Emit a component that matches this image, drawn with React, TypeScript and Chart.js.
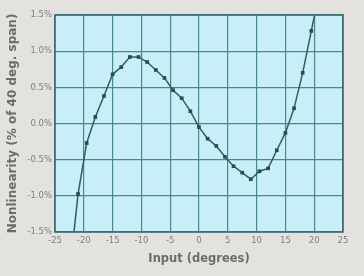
import React, { useEffect, useRef } from "react";
import { Chart, registerables } from "chart.js";

Chart.register(...registerables);

const inputDegrees = [-22.5, -21, -19.5, -18, -16.5, -15, -13.5, -12, -10.5, -9, -7.5, -6, -4.5, -3, -1.5, 0, 1.5, 3, 4.5, 6, 7.5, 9, 10.5, 12, 13.5, 15, 16.5, 18, 19.5, 21];
const nonlinearity = [-2.1, -0.975, -0.27, 0.09, 0.38, 0.68, 0.78, 0.92, 0.92, 0.85, 0.74, 0.63, 0.46, 0.35, 0.17, -0.05, -0.21, -0.31, -0.46, -0.59, -0.68, -0.77, -0.66, -0.62, -0.37, -0.13, 0.21, 0.7, 1.28, 1.86];
const xTicks = [-25, -20, -15, -10, -5, 0, 5, 10, 15, 20, 25];
const yTicks = [-1.5, -1.0, -0.5, 0.0, 0.5, 1.0, 1.5];
const xTitle = "Input (degrees)";
const yTitle = "Nonlinearity (% of 40 deg. span)";

const bgPlugin = {
  id: "bgPlugin",
  beforeDraw(chart: any) {
    const { ctx, chartArea, width, height } = chart;
    ctx.save();
    ctx.fillStyle = "#e4e2df";
    ctx.fillRect(0, 0, width, height);
    ctx.fillStyle = "#c8eff7";
    ctx.fillRect(chartArea.left, chartArea.top, chartArea.right - chartArea.left, chartArea.bottom - chartArea.top);
    ctx.restore();
  },
  afterDatasetsDraw(chart: any) {
    const { ctx, chartArea } = chart;
    ctx.save();
    ctx.strokeStyle = "#3f6a70";
    ctx.lineWidth = 1.6;
    ctx.strokeRect(chartArea.left, chartArea.top, chartArea.right - chartArea.left, chartArea.bottom - chartArea.top);
    ctx.restore();
  },
};

export default function App() {
  const ref = useRef<HTMLCanvasElement>(null);
  useEffect(() => {
    document.body.style.margin = "0";
    const chart = new Chart(ref.current!, {
      type: "line",
      data: {
        datasets: [
          {
            data: inputDegrees.map((x, i) => ({ x, y: nonlinearity[i] })),
            borderColor: "#2e5d68",
            borderWidth: 1.5,
            pointStyle: "rect",
            pointRadius: 2.6,
            pointBackgroundColor: "#284c57",
            pointBorderColor: "#284c57",
            pointBorderWidth: 0,
            tension: 0,
            clip: 0,
          } as any,
        ],
      },
      options: {
        animation: false,
        responsive: false,
        layout: { padding: { left: 0, right: 21, top: 15, bottom: 0 } },
        plugins: { legend: { display: false }, tooltip: { enabled: false } },
        scales: {
          x: {
            type: "linear",
            min: -25,
            max: 25,
            afterBuildTicks: (s: any) => {
              s.ticks = xTicks.map((v) => ({ value: v }));
            },
            afterFit: (s: any) => {
              s.height = 44;
            },
            grid: { color: "#4a878f", lineWidth: 1.2, drawTicks: false },
            border: { display: false },
            ticks: {
              padding: 4,
              color: "#808080",
              font: { family: "DejaVu Sans", size: 8.5 },
              maxRotation: 0,
              autoSkip: false,
            },
            title: {
              display: true,
              text: xTitle,
              color: "#6c6c6c",
              font: { family: "DejaVu Sans", size: 11.5, weight: "bold" },
              padding: { top: 0, bottom: 10 },
            },
          },
          y: {
            type: "linear",
            min: -1.5,
            max: 1.5,
            afterBuildTicks: (s: any) => {
              s.ticks = yTicks.map((v) => ({ value: v }));
            },
            afterFit: (s: any) => {
              s.width = 55;
            },
            grid: { color: "#4a878f", lineWidth: 1.2, drawTicks: false },
            border: { display: false },
            ticks: {
              padding: 3,
              color: "#808080",
              font: { family: "DejaVu Sans", size: 8.5 },
              callback: (v: any) => Number(v).toFixed(1) + "%",
              autoSkip: false,
            },
            title: {
              display: true,
              text: yTitle,
              color: "#6c6c6c",
              font: { family: "DejaVu Sans", size: 12, weight: "bold" },
              padding: { top: 6, bottom: 0 },
            },
          },
        },
      },
      plugins: [bgPlugin],
    });
    return () => chart.destroy();
  }, []);
  return <canvas ref={ref} width={364} height={276} style={{ display: "block" }} />;
}
